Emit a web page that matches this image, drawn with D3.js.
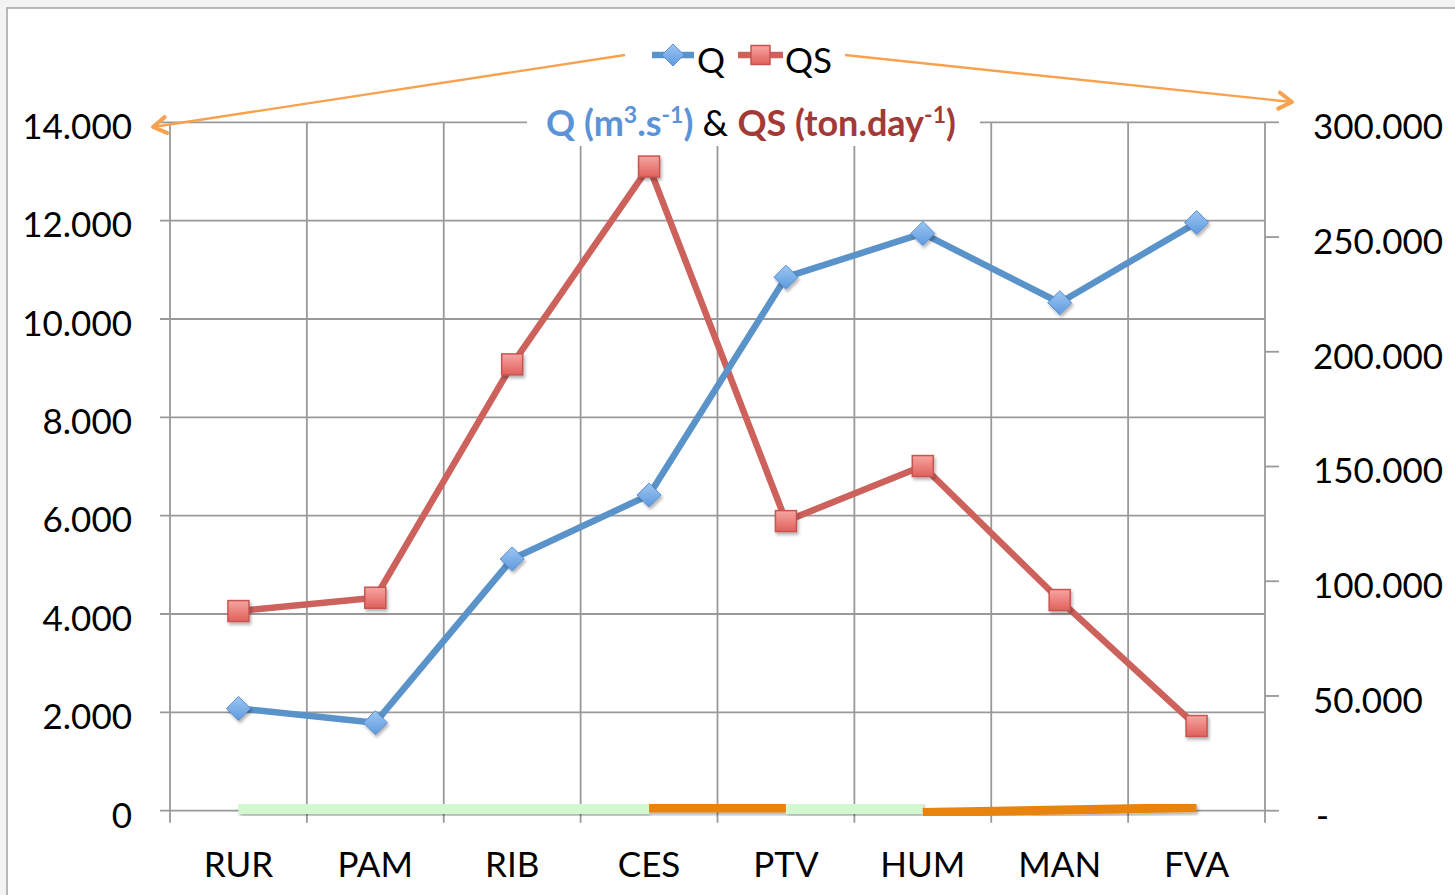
<!DOCTYPE html>
<html>
<head>
<meta charset="utf-8">
<script src="https://cdn.jsdelivr.net/npm/d3@7"></script>
<style>
  body { margin: 0; background: #f3f3f3; }
  svg { display: block; font-family: "Lato", "Open Sans", sans-serif; }
</style>
</head>
<body>
<svg width="1455" height="895"></svg>
<script>
// categories (stations) and the two series
var cats = ["RUR", "PAM", "RIB", "CES", "PTV", "HUM", "MAN", "FVA"];
var qVals = [2.08, 1.79, 5.12, 6.42, 10.85, 11.74, 10.33, 11.96];      // m3.s-1 (left axis)
var qsVals = [87.0, 92.8, 194.5, 280.7, 126.2, 150.2, 91.8, 36.9];     // ton.day-1 (right axis)

// coloured strip along the base (right axis values), one entry per stretch
var stripFrom = [0, 3, 4, 5];
var stripTo = [3, 4, 5, 7];
var stripV0 = [1.2, 1.2, 1.2, -0.8];
var stripV1 = [1.2, 1.2, 1.2, 1.4];
var stripKind = ["green", "orange", "green", "orange"];

var leftTicks = [0, 2, 4, 6, 8, 10, 12, 14];
var rightTicks = [0, 50, 100, 150, 200, 250, 300];

var svg = d3.select("svg");

var pLeft = 170, pRight = 1265, pTop = 122.3, pBottom = 810.7;

var x = d3.scaleBand().domain(cats).range([pLeft, pRight]);
var yL = d3.scaleLinear().domain([0, 14]).range([pBottom, pTop]);
var yR = d3.scaleLinear().domain([0, 300]).range([pBottom, pTop]);
var cx = function(i) { return x(cats[i]) + x.bandwidth() / 2; };

var defs = svg.append("defs");
var shadow = defs.append("filter").attr("id", "shadow")
  .attr("x", "-50%").attr("y", "-50%").attr("width", "200%").attr("height", "200%");
shadow.append("feDropShadow").attr("dx", 1.5).attr("dy", 2.5)
  .attr("stdDeviation", 1.5).attr("flood-color", "#000").attr("flood-opacity", 0.3);

var gRed = defs.append("linearGradient").attr("id", "gred")
  .attr("x1", 0).attr("y1", 0).attr("x2", 0).attr("y2", 1);
gRed.append("stop").attr("offset", "0%").attr("stop-color", "#f6a5a1");
gRed.append("stop").attr("offset", "100%").attr("stop-color", "#e0605b");
var gBlue = defs.append("linearGradient").attr("id", "gblue")
  .attr("x1", 0).attr("y1", 0).attr("x2", 0).attr("y2", 1);
gBlue.append("stop").attr("offset", "0%").attr("stop-color", "#9cc6f2");
gBlue.append("stop").attr("offset", "100%").attr("stop-color", "#5f9ae0");

defs.append("marker").attr("id", "arrow")
  .attr("viewBox", "-16 -11 20 22").attr("refX", 0).attr("refY", 0)
  .attr("markerUnits", "userSpaceOnUse").style("overflow", "visible")
  .attr("markerWidth", 20).attr("markerHeight", 22).attr("orient", "auto")
  .append("path").attr("d", "M -13,-8 L 0,0 L -13,8")
  .attr("fill", "none").attr("stroke", "#f8a14f").attr("stroke-width", 4)
  .attr("stroke-linecap", "round").attr("stroke-linejoin", "round");

// chart frame
svg.append("rect").attr("x", 7).attr("y", 8).attr("width", 1470).attr("height", 900)
  .attr("fill", "#fff").attr("stroke", "#a3a3a3").attr("stroke-width", 1.5);

var grid = svg.append("g").attr("stroke", "#999").attr("stroke-width", 1.8);

// horizontal gridlines (left axis) with ticks
grid.selectAll(".h").data(leftTicks).enter().append("line")
  .attr("x1", pLeft - 10).attr("x2", pRight)
  .attr("y1", function(d) { return yL(d); }).attr("y2", function(d) { return yL(d); });

// vertical gridlines at category boundaries
var bounds = cats.map(function(c) { return x(c); }).concat([pRight]);
grid.selectAll(".v").data(bounds).enter().append("line")
  .attr("x1", function(d) { return d; }).attr("x2", function(d) { return d; })
  .attr("y1", pTop).attr("y2", pBottom + 12);

// right axis ticks
grid.selectAll(".r").data(rightTicks).enter().append("line")
  .attr("x1", pRight).attr("x2", pRight + 14)
  .attr("y1", function(d) { return yR(d); }).attr("y2", function(d) { return yR(d); });

// axis labels
var fmt = d3.format(".3f");
svg.append("g").selectAll("text").data(leftTicks).enter().append("text")
  .attr("x", 132).attr("y", function(d) { return yL(d); }).attr("dy", "0.48em")
  .attr("text-anchor", "end").attr("font-size", 35).attr("fill", "#000")
  .text(function(d) { return d === 0 ? "0" : fmt(d); });

svg.append("g").selectAll("text").data(rightTicks).enter().append("text")
  .attr("x", function(d) { return d === 0 ? 1316 : 1313; })
  .attr("y", function(d) { return yR(d); }).attr("dy", "0.48em")
  .attr("text-anchor", "start").attr("font-size", 35).attr("fill", "#000")
  .text(function(d) { return d === 0 ? "-" : fmt(d); });

svg.append("g").selectAll("text").data(cats).enter().append("text")
  .attr("x", function(d) { return x(d) + x.bandwidth() / 2; }).attr("y", 877)
  .attr("text-anchor", "middle").attr("font-size", 35).attr("fill", "#000")
  .text(function(d) { return d; });

// coloured base strip
var stripColor = { green: "#d2f8d2", orange: "#e8830c" };
var stripWidth = { green: 12, orange: 9 };
svg.append("g").attr("filter", "url(#shadow)").selectAll("line").data(stripFrom).enter().append("line")
  .attr("x1", function(d) { return cx(d); })
  .attr("x2", function(d, i) { return cx(stripTo[i]); })
  .attr("y1", function(d, i) { return yR(stripV0[i]); })
  .attr("y2", function(d, i) { return yR(stripV1[i]); })
  .attr("stroke", function(d, i) { return stripColor[stripKind[i]]; })
  .attr("stroke-width", function(d, i) { return stripWidth[stripKind[i]]; });

// series lines
var lineQ = d3.line().x(function(d, i) { return cx(i); }).y(function(d) { return yL(d); });
var lineQS = d3.line().x(function(d, i) { return cx(i); }).y(function(d) { return yR(d); });

svg.append("path").attr("d", lineQS(qsVals)).attr("fill", "none")
  .attr("stroke", "#cd615b").attr("stroke-width", 6.5).attr("stroke-linejoin", "round");
svg.append("path").attr("d", lineQ(qVals)).attr("fill", "none")
  .attr("stroke", "#5a93c9").attr("stroke-width", 6.5).attr("stroke-linejoin", "round");

// markers
svg.append("g").attr("filter", "url(#shadow)").selectAll("path").data(qVals).enter().append("path")
  .attr("d", "M 0,-12 L 12,0 L 0,12 L -12,0 Z")
  .attr("transform", function(d, i) { return "translate(" + cx(i) + "," + yL(d) + ")"; })
  .attr("fill", "url(#gblue)").attr("stroke", "#5b8fd0").attr("stroke-width", 1);

svg.append("g").attr("filter", "url(#shadow)").selectAll("rect").data(qsVals).enter().append("rect")
  .attr("x", function(d, i) { return cx(i) - 10.5; })
  .attr("y", function(d) { return yR(d) - 10.5; })
  .attr("width", 21).attr("height", 21)
  .attr("fill", "url(#gred)").attr("stroke", "#c65550").attr("stroke-width", 1.5);

// title with white backing over top gridline
svg.append("rect").attr("x", 527).attr("y", 98).attr("width", 453).attr("height", 48).attr("fill", "#fff");
var title = svg.append("text").attr("x", 751).attr("y", 136).attr("text-anchor", "middle")
  .attr("font-size", 36).attr("font-weight", "bold");
title.append("tspan").attr("fill", "#5b93d6").text("Q (m");
title.append("tspan").attr("fill", "#5b93d6").attr("font-size", 23).attr("dy", -13).text("3");
title.append("tspan").attr("fill", "#5b93d6").attr("dy", 13).text(".s");
title.append("tspan").attr("fill", "#5b93d6").attr("font-size", 23).attr("dy", -13).text("-1");
title.append("tspan").attr("fill", "#5b93d6").attr("dy", 13).text(")");
title.append("tspan").attr("fill", "#000").attr("font-weight", "normal").text(" & ");
title.append("tspan").attr("fill", "#a23a37").text("QS (ton.day");
title.append("tspan").attr("fill", "#a23a37").attr("font-size", 23).attr("dy", -13).text("-1");
title.append("tspan").attr("fill", "#a23a37").attr("dy", 13).text(")");

// legend
var leg = svg.append("g");
leg.append("line").attr("x1", 652).attr("x2", 694).attr("y1", 55).attr("y2", 55)
  .attr("stroke", "#5a93c9").attr("stroke-width", 6.5);
leg.append("path").attr("d", "M 0,-11 L 11,0 L 0,11 L -11,0 Z").attr("transform", "translate(673,55)")
  .attr("fill", "url(#gblue)").attr("stroke", "#5b8fd0").attr("stroke-width", 1);
leg.append("text").attr("x", 697).attr("y", 72.5).attr("font-size", 35).text("Q");
leg.append("line").attr("x1", 738).attr("x2", 783).attr("y1", 55).attr("y2", 55)
  .attr("stroke", "#cd615b").attr("stroke-width", 6.5);
leg.append("rect").attr("x", 751).attr("y", 45.5).attr("width", 19).attr("height", 19)
  .attr("fill", "url(#gred)").attr("stroke", "#c65550").attr("stroke-width", 1.5);
leg.append("text").attr("x", 785).attr("y", 72.5).attr("font-size", 35).text("QS");

// orange arrows pointing to the two axes
svg.append("line").attr("x1", 625).attr("y1", 55).attr("x2", 153).attr("y2", 127)
  .attr("stroke", "#f8a14f").attr("stroke-width", 2.4).attr("marker-end", "url(#arrow)");
svg.append("line").attr("x1", 845).attr("y1", 55).attr("x2", 1292).attr("y2", 102)
  .attr("stroke", "#f8a14f").attr("stroke-width", 2.4).attr("marker-end", "url(#arrow)");
</script>
</body>
</html>
